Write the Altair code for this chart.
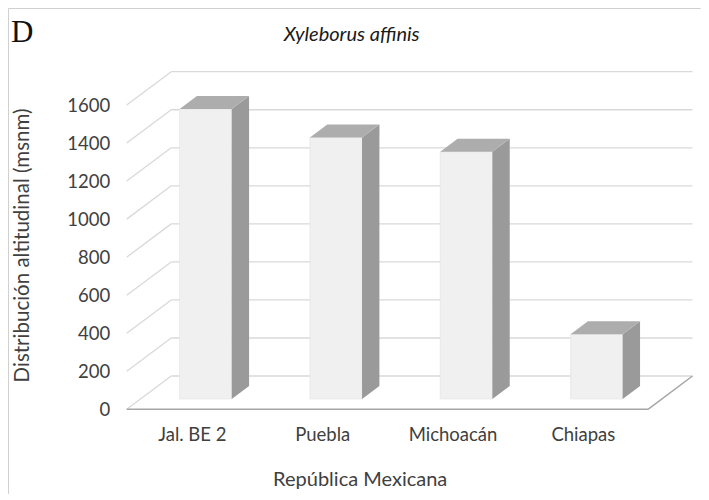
import json
import altair as alt
import pandas as pd

# ---------------- data ----------------
categories = ["Jal. BE 2", "Puebla", "Michoacán", "Chiapas"]
altitudes = [1525, 1375, 1300, 340]
y_ticks = [0, 200, 400, 600, 800, 1000, 1200, 1400, 1600]

title_text = "Xyleborus affinis"
panel_letter = "D"
y_title = "Distribución altitudinal (msnm)"
x_title = "República Mexicana"

# ---------------- 3D style constants ----------------
DEPTH_X = 0.3415   # depth of the 3D box, in category units
DEPTH_Y = 175.0    # depth of the 3D box, in value units
F_FRONT = 0.31     # bar front face position inside the depth
F_BACK = 0.70      # bar back face position inside the depth
HALF_W = 0.2       # half bar width, category units
N = len(categories)

FONT = "Lato"
TXT = "#404040"
GRID = "#d9d9d9"
FLOOR = "#a6a6a6"

x_scale = alt.Scale(domain=[0, N], nice=False, zero=False)
y_scale = alt.Scale(domain=[0, 1600], nice=False, zero=False)

label_expr = "[" + ",".join(json.dumps(c, ensure_ascii=False) for c in categories) + "][floor(datum.value)]"

x_axis = alt.Axis(
    values=[i + 0.5 for i in range(N)],
    labelExpr=label_expr,
    domain=False, ticks=False, grid=False,
    labelFont=FONT, labelFontSize=18.5, labelColor=TXT,
    labelBaseline="alphabetic", labelPadding=31.5,
    title=x_title, titleFont=FONT, titleFontSize=20,
    titleFontWeight="normal", titleColor=TXT,
    titleX=233, titleY=75.7, titleBaseline="alphabetic", titleAlign="center",
)
y_axis = alt.Axis(
    values=y_ticks, format="d",
    domain=False, ticks=False, grid=False,
    labelFont=FONT, labelFontSize=18.5, labelColor=TXT,
    labelPadding=17,
    title=y_title, titleFont=FONT, titleFontSize=20.5,
    titleFontWeight="normal", titleColor=TXT,
    titleX=-104, titleY=140, titleBaseline="middle", titleAlign="center", titleAngle=270,
)

# ---------------- tables built from the arrays ----------------
bars = pd.DataFrame({"site": categories, "value": altitudes, "i": range(N)})
bars["xl"] = bars["i"] + 0.5 - HALF_W + F_FRONT * DEPTH_X
bars["xr"] = bars["i"] + 0.5 + HALF_W + F_FRONT * DEPTH_X
bars["yb"] = F_FRONT * DEPTH_Y
bars["yt"] = bars["value"] + F_FRONT * DEPTH_Y
ddx = (F_BACK - F_FRONT) * DEPTH_X
ddy = (F_BACK - F_FRONT) * DEPTH_Y

side_rows, top_rows = [], []
for r in bars.to_dict("records"):
    side_rows.append({"site": r["site"], "x": r["xr"], "lo": r["yb"], "hi": r["yt"]})
    side_rows.append({"site": r["site"], "x": r["xr"] + ddx, "lo": r["yb"] + ddy, "hi": r["yt"] + ddy})
    top_rows.append({"site": r["site"], "y": r["yt"], "xa": r["xl"], "xb": r["xr"]})
    top_rows.append({"site": r["site"], "y": r["yt"] + ddy, "xa": r["xl"] + ddx, "xb": r["xr"] + ddx})
side = pd.DataFrame(side_rows)
top = pd.DataFrame(top_rows)

grid = pd.DataFrame({"v": y_ticks})
grid["x0"] = 0.0
grid["xb0"] = DEPTH_X
grid["xb1"] = N + DEPTH_X
grid["yback"] = grid["v"] + DEPTH_Y

floor = pd.DataFrame({
    "x": [0.0, float(N)],
    "x2": [float(N), N + DEPTH_X],
    "y": [0.0, 0.0],
    "y2": [0.0, DEPTH_Y],
})

# ---------------- layers ----------------
back_grid = alt.Chart(grid).mark_rule(color=GRID, strokeWidth=1.3).encode(
    x=alt.X("xb0:Q", scale=x_scale, axis=x_axis),
    x2="xb1:Q",
    y=alt.Y("yback:Q", scale=y_scale, axis=y_axis),
)

side_grid = alt.Chart(grid).mark_rule(color=GRID, strokeWidth=1.3).encode(
    x=alt.X("x0:Q", scale=x_scale, axis=x_axis),
    x2="xb0:Q",
    y=alt.Y("v:Q", scale=y_scale, axis=y_axis),
    y2="yback:Q",
)

floor_lines = alt.Chart(floor).mark_rule(color=FLOOR, strokeWidth=1.5).encode(
    x=alt.X("x:Q", scale=x_scale, axis=x_axis),
    x2="x2:Q",
    y=alt.Y("y:Q", scale=y_scale, axis=y_axis),
    y2="y2:Q",
)

front = alt.Chart(bars).mark_rect(color="#f0f0f0", stroke="#e2e2e2", strokeWidth=0.6).encode(
    x=alt.X("xl:Q", scale=x_scale, axis=x_axis),
    x2="xr:Q",
    y=alt.Y("yb:Q", scale=y_scale, axis=y_axis),
    y2="yt:Q",
)

side_face = alt.Chart(side).mark_area(color="#9a9a9a", orient="vertical").encode(
    x=alt.X("x:Q", scale=x_scale, axis=x_axis),
    y=alt.Y("hi:Q", scale=y_scale, axis=y_axis),
    y2="lo:Q",
    detail="site:N",
)

top_face = alt.Chart(top).mark_area(color="#adadad", orient="horizontal").encode(
    y=alt.Y("y:Q", scale=y_scale, axis=y_axis),
    x=alt.X("xa:Q", scale=x_scale, axis=x_axis),
    x2="xb:Q",
    detail="site:N",
)

letter = alt.Chart(pd.DataFrame({"t": [panel_letter]})).mark_text(
    font="Liberation Serif", fontSize=31, color="#111111", align="center", baseline="alphabetic"
).encode(text="t:N", x=alt.value(-104.5), y=alt.value(-63))

title_mark = alt.Chart(pd.DataFrame({"t": [title_text]})).mark_text(
    font=FONT, fontSize=20, fontStyle="italic", color="#1a1a1a", align="center", baseline="alphabetic"
).encode(text="t:N", x=alt.value(225), y=alt.value(-64))

frame = alt.Chart(pd.DataFrame({"a": [0]})).mark_rule(color="#d0d0d0", strokeWidth=1).encode(
    x=alt.value(-118.2), y=alt.value(-96.5), y2=alt.value(390)
)
frame_top = alt.Chart(pd.DataFrame({"a": [0]})).mark_rule(color="#d0d0d0", strokeWidth=1).encode(
    x=alt.value(-118.2), x2=alt.value(574), y=alt.value(-96.5)
)

chart = alt.layer(
    frame, frame_top, back_grid, side_grid, floor_lines, front, side_face, top_face,
    letter, title_mark,
).properties(
    width=521.3,
    height=304.3,
    padding={"left": 118.7, "top": 97, "right": 53, "bottom": 84.7},
    autosize=alt.AutoSizeParams(type="none"),
).configure_view(stroke=None)

chart.save("out.html", embed_options={"renderer": "svg", "actions": False})
